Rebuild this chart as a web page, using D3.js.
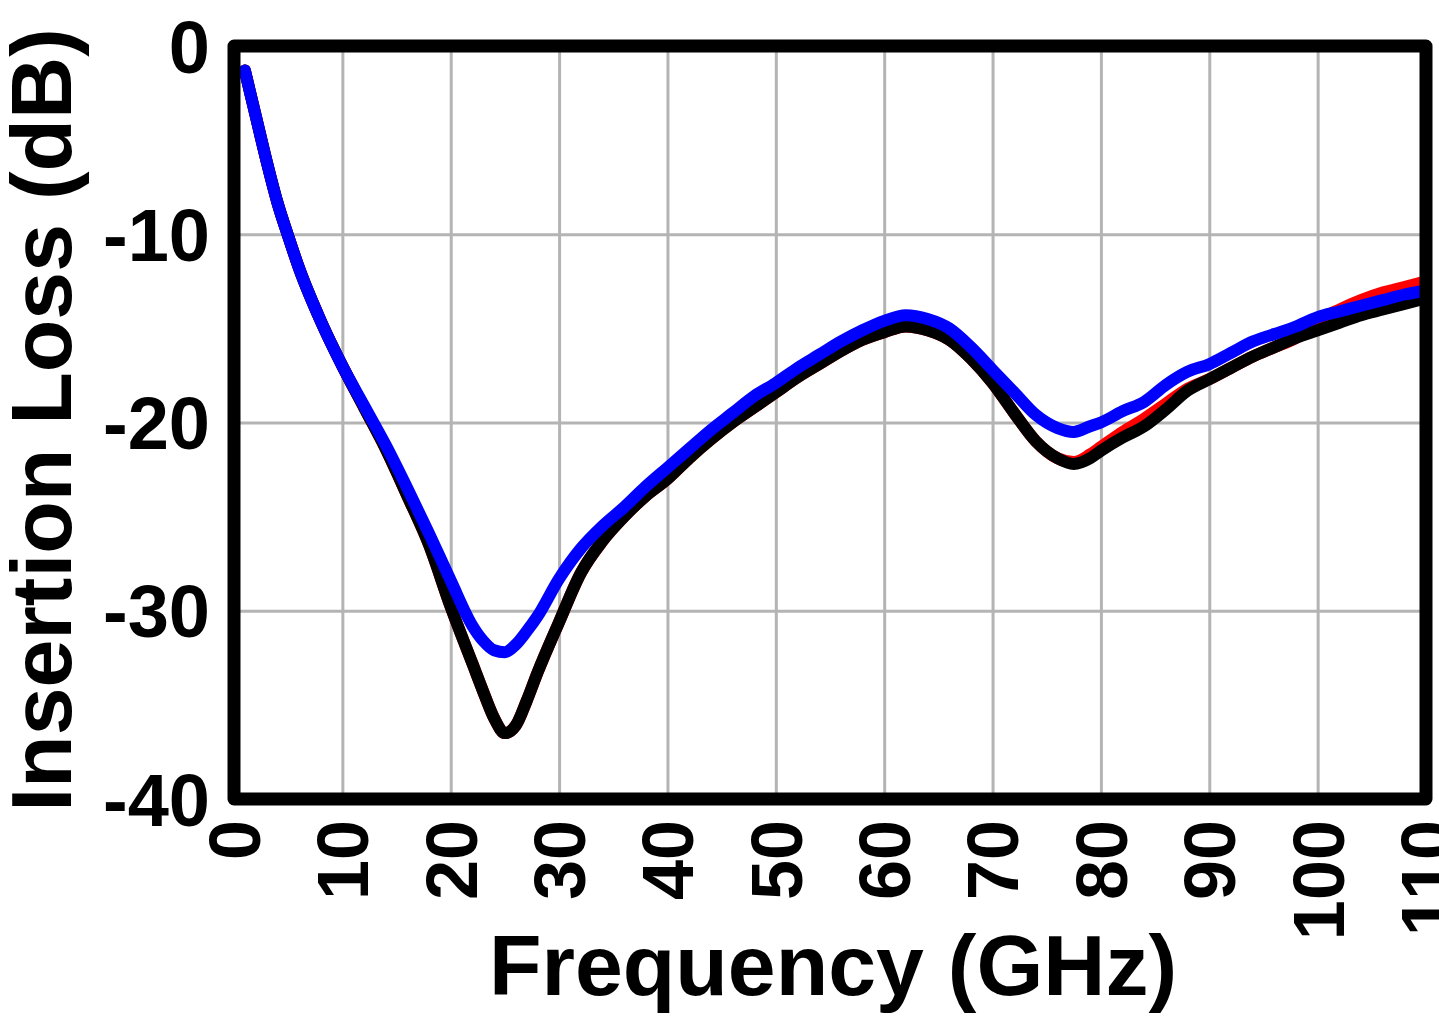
<!DOCTYPE html>
<html>
<head>
<meta charset="utf-8">
<script src="https://cdn.jsdelivr.net/npm/d3@7"></script>
<style>
  body { margin: 0; background: #fff; }
  text { font-family: "Liberation Sans", Arial, sans-serif; font-weight: bold; fill: #000; }
</style>
</head>
<body>
<script>
// frequency points (GHz) shared by all traces
let freq = [1, 2, 3, 4, 5, 6, 8, 10, 12, 14, 16, 18, 20, 22, 23, 24, 25, 26, 27, 28,
    30, 32, 34, 36, 38, 40, 42, 44, 46, 48, 50, 52, 54, 56, 58, 60, 62, 64, 66, 68,
    70, 72, 74, 76, 77.5, 79, 80, 82, 84, 86, 88, 90, 92, 94, 96, 98, 100, 102, 104,
    106, 108, 110];

// insertion loss (dB)
let redLoss = [-1.3, -3.7, -6.1, -8.3, -10.1, -11.8, -14.6, -17.0, -19.2, -21.4, -23.9, -26.5, -29.8, -32.8, -34.3, -35.7, -36.5, -36.1, -34.8, -33.3,
    -30.6, -28.0, -26.3, -25.0, -23.9, -23.0, -21.9, -20.9, -20.0, -19.2, -18.4, -17.6, -16.9, -16.2, -15.6, -15.2, -14.9, -15.1, -15.6, -16.6,
    -17.9, -19.5, -21.0, -21.9, -22.1, -21.7, -21.3, -20.5, -19.8, -19.0, -18.2, -17.7, -17.1, -16.5, -16.0, -15.5, -14.6, -14.0, -13.5,
    -13.1, -12.8, -12.5];

let blackLoss = [-1.3, -3.7, -6.1, -8.3, -10.1, -11.8, -14.6, -17.0, -19.2, -21.4, -23.9, -26.5, -29.8, -32.8, -34.3, -35.7, -36.5, -36.1, -34.8, -33.3,
    -30.6, -28.0, -26.3, -25.0, -23.9, -23.0, -21.9, -20.9, -20.0, -19.2, -18.4, -17.6, -16.9, -16.2, -15.6, -15.2, -14.9, -15.1, -15.6, -16.6,
    -17.9, -19.5, -21.0, -21.9, -22.2, -21.9, -21.5, -20.8, -20.2, -19.3, -18.3, -17.7, -17.1, -16.5, -16.0, -15.5, -15.1, -14.7, -14.3,
    -14.0, -13.7, -13.4];

let blueLoss = [-1.3, -3.7, -6.1, -8.3, -10.1, -11.8, -14.6, -17.0, -19.1, -21.2, -23.5, -25.9, -28.4, -30.8, -31.6, -32.1, -32.2, -31.8, -31.1, -30.3,
    -28.3, -26.7, -25.5, -24.5, -23.4, -22.4, -21.4, -20.4, -19.5, -18.6, -17.9, -17.1, -16.4, -15.7, -15.1, -14.6, -14.3, -14.5, -15.0, -16.0,
    -17.2, -18.4, -19.6, -20.3, -20.5, -20.2, -20.0, -19.4, -18.9, -18.0, -17.3, -16.9, -16.3, -15.7, -15.3, -14.9, -14.4, -14.1, -13.8,
    -13.5, -13.2, -13.0];

let xTicks = [0, 10, 20, 30, 40, 50, 60, 70, 80, 90, 100, 110];
let xTickLabels = ["0", "10", "20", "30", "40", "50", "60", "70", "80", "90", "100", "110"];
let yTicks = [0, -10, -20, -30, -40];
let yTickLabels = ["0", "-10", "-20", "-30", "-40"];

let svgWidth = 1439,
    svgHeight = 1019,
    plot = { left: 234, right: 1426, top: 46, bottom: 799 };

let svg = d3.select("body").append("svg")
    .attr("width", svgWidth)
    .attr("height", svgHeight);

let x = d3.scaleLinear().domain([0, 110]).range([plot.left, plot.right]);
let y = d3.scaleLinear().domain([-40, 0]).range([plot.bottom, plot.top]);

// grid
svg.append("g")
    .attr("transform", "translate(0," + plot.bottom + ")")
    .call(d3.axisBottom(x).tickValues(xTicks).tickSize(-(plot.bottom - plot.top)).tickFormat(""))
    .call(g => g.select(".domain").remove())
    .selectAll("line")
    .attr("stroke", "#b4b4b4")
    .attr("stroke-width", 3);

svg.append("g")
    .attr("transform", "translate(" + plot.left + ",0)")
    .call(d3.axisLeft(y).tickValues(yTicks).tickSize(-(plot.right - plot.left)).tickFormat(""))
    .call(g => g.select(".domain").remove())
    .selectAll("line")
    .attr("stroke", "#b4b4b4")
    .attr("stroke-width", 3);

// traces
let line = d3.line()
    .x(d => x(d[0]))
    .y(d => y(d[1]))
    .curve(d3.curveMonotoneX);

function drawTrace(values, color) {
    svg.append("path")
        .datum(freq.map((f, i) => [f, values[i]]))
        .attr("d", line)
        .attr("fill", "none")
        .attr("stroke", color)
        .attr("stroke-width", 12)
        .attr("stroke-linejoin", "round")
        .attr("stroke-linecap", "round");
}

drawTrace(redLoss, "#ff0000");
drawTrace(blackLoss, "#000000");
drawTrace(blueLoss, "#0000ff");

// frame
svg.append("rect")
    .attr("x", plot.left)
    .attr("y", plot.top)
    .attr("width", plot.right - plot.left)
    .attr("height", plot.bottom - plot.top)
    .attr("fill", "none")
    .attr("stroke", "#000")
    .attr("stroke-width", 13)
    .attr("stroke-linejoin", "round");

// tick labels
svg.append("g").selectAll("text")
    .data(xTicks)
    .join("text")
    .attr("transform", (d) => "translate(" + x(d) + "," + (plot.bottom + 21) + ") rotate(-90)")
    .attr("text-anchor", "end")
    .attr("dy", "0.36em")
    .style("font-size", "72px")
    .text((d, i) => xTickLabels[i]);

svg.append("g").selectAll("text")
    .data(yTicks)
    .join("text")
    .attr("x", plot.left - 24)
    .attr("y", (d) => y(d))
    .attr("text-anchor", "end")
    .attr("dy", "0.36em")
    .style("font-size", "74px")
    .text((d, i) => yTickLabels[i]);

// axis titles
svg.append("text")
    .attr("x", 833)
    .attr("y", 995)
    .attr("text-anchor", "middle")
    .style("font-size", "86px")
    .text("Frequency (GHz)");

svg.append("text")
    .attr("transform", "translate(71,420) rotate(-90)")
    .attr("text-anchor", "middle")
    .style("font-size", "86px")
    .text("Insertion Loss (dB)");
</script>
</body>
</html>
